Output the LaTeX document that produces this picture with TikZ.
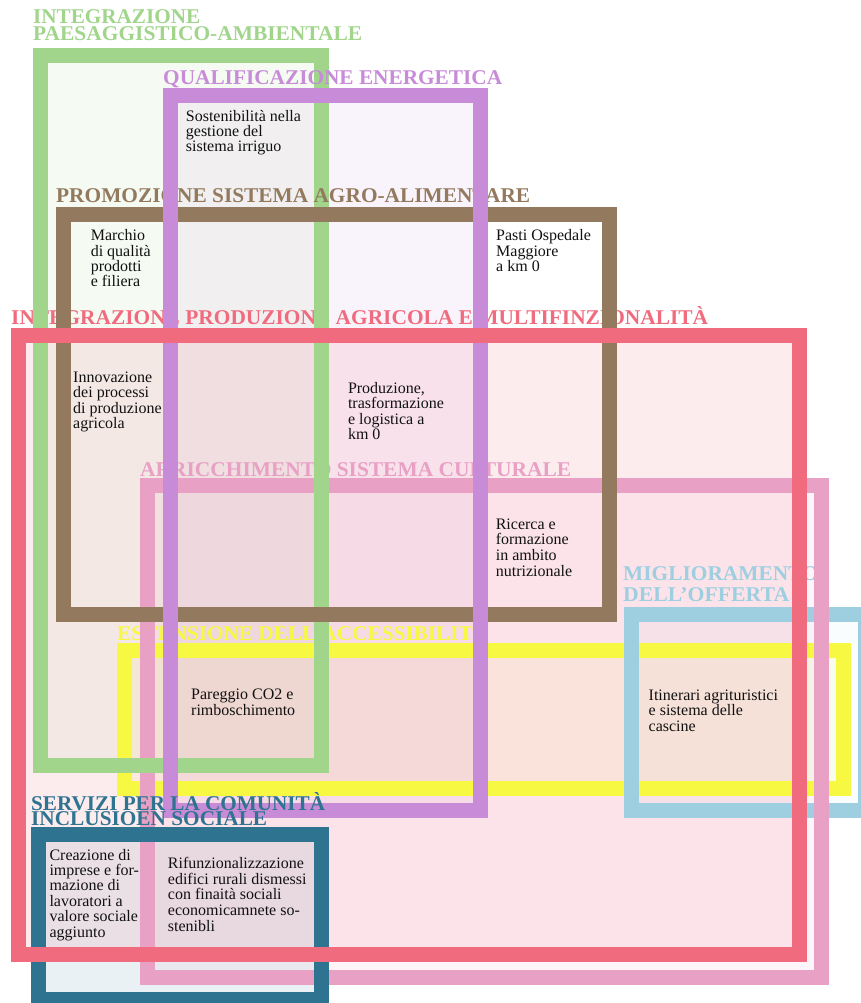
\documentclass[tikz,border=0pt]{standalone}
\usepackage{fontspec}
\setmainfont{Liberation Serif}
\usepackage{graphicx}

\definecolor{cGreen}{HTML}{A1D58B}
\definecolor{cPurple}{HTML}{C78BD8}
\definecolor{cBrown}{HTML}{937A5E}
\definecolor{cRed}{HTML}{F06B7E}
\definecolor{cPink}{HTML}{E8A0C4}
\definecolor{cYellow}{HTML}{F7F842}
\definecolor{cBlue}{HTML}{9DCFE0}
\definecolor{cTeal}{HTML}{2E7390}
\definecolor{cInk}{HTML}{111111}

% set a title line stretched horizontally to a given width (in pt)
\newsavebox\fitbox
\newlength\fitlen
\newcommand{\fitw}[2]{%
  \sbox\fitbox{#2}%
  \setlength\fitlen{\wd\fitbox}%
  \pgfmathsetmacro\fitratio{#1/\fitlen}%
  \scalebox{\fitratio}[1]{\usebox\fitbox}}

% left-aligned block of lines whose baseline is the first line
\newcommand{\stack}[2][15.5pt]{%
  \vtop{\baselineskip=#1\lineskiplimit=-50pt\lineskip=0pt
    \halign{##\hfil\cr#2\crcr}}}

\tikzset{
  ttl/.style={inner sep=0pt, anchor=base west,
    font=\fontsize{21}{21}\selectfont\bfseries},
  body/.style={inner sep=0pt, anchor=base west, text=cInk,
    font=\fontsize{16}{15.5}\selectfont},
  rim/.style={draw=#1, line width=15pt},
  tint/.style 2 args={fill=#1, fill opacity=#2},
}

\begin{document}
\begin{tikzpicture}[x=1pt, y=-1pt]
\useasboundingbox (0,0) rectangle (861,1003);
\clip (0,0) rectangle (861,1003);

% translucent areas of the fields (the agri-food field has none)
\fill[tint={cYellow}{0.10}] (117,643) rectangle (851,796);
\fill[tint={cBlue}{0.05}]   (624,607) rectangle (873,818);
\fill[tint={cPink}{0.10}]   (140,478) rectangle (829,985);
\fill[tint={cTeal}{0.10}]   (31,827)  rectangle (329,1007);
\fill[tint={cGreen}{0.10}]  (33,48)   rectangle (329,773);
\fill[tint={cPurple}{0.10}] (163,88)  rectangle (488,818);
\fill[tint={cRed}{0.13}]    (11,328)  rectangle (807,962);

% agricultural production heading lies beneath the other rims
\node[ttl, text=cRed] (tRed) at (11,324)
  {\fitw{697}{INTEGRAZIONE PRODUZIONE AGRICOLA E MULTIFINZIONALITÀ}};

% accessibility
\draw[rim=cYellow] (124.5,650.5) rectangle (843.5,788.5);
\node[ttl, text=cYellow] (tYellow) at (117,640.5)
  {\fitw{371}{ESTENSIONE DELL’ACCESSIBILITÀ}};

% offer improvement
\draw[rim=cBlue] (631.5,614.5) rectangle (865.5,810.5);
\node[ttl, text=cBlue] (tBlueA) at (623,580) {\fitw{195.5}{MIGLIORAMENTO}};
\node[ttl, text=cBlue] (tBlueB) at (623,601.5) {\fitw{166}{DELL’OFFERTA}};

% cultural system
\draw[rim=cPink] (147.5,485.5) rectangle (821.5,977.5);
\node[ttl, text=cPink] (tPink) at (140,476)
  {\fitw{431}{ARRICCHIMENTO SISTEMA CULTURALE}};

% community services
\draw[rim=cTeal] (38.5,834.5) rectangle (321.5,999.5);

% landscape and environment
\draw[rim=cGreen] (40.5,55.5) rectangle (321.5,765.5);
\node[ttl, text=cGreen] (tGreenA) at (33,24) {\fitw{167}{INTEGRAZIONE}};
\node[ttl, text=cGreen] (tGreenB) at (33,41) {\fitw{329}{PAESAGGISTICO-AMBIENTALE}};

% agri-food system
\draw[rim=cBrown] (63.5,214.5) rectangle (609.5,614.5);
\node[ttl, text=cBrown] (tBrown) at (56,203)
  {\fitw{474}{PROMOZIONE SISTEMA AGRO-ALIMENTARE}};

% energy
\draw[rim=cPurple] (170.5,95.5) rectangle (480.5,810.5);
\node[ttl, text=cPurple] (tPurple) at (163,85)
  {\fitw{339}{QUALIFICAZIONE ENERGETICA}};

% agricultural production
\draw[rim=cRed] (18.5,335.5) rectangle (799.5,954.5);

\node[ttl, text=cTeal] (tTealA) at (31,810) {\fitw{294}{SERVIZI PER LA COMUNITÀ}};
\node[ttl, text=cTeal] (tTealB) at (31,825) {\fitw{236}{INCLUSIOEN SOCIALE}};

% actions
\node[body] (aIrr) at (185.7,121.7)
  {\stack[15pt]{Sostenibilità nella\cr gestione del\cr sistema irriguo}};
\node[body] (aMarchio) at (90.6,240.7)
  {\stack[15.3pt]{Marchio\cr di qualità\cr prodotti\cr e filiera}};
\node[body] (aPasti) at (496,240.7)
  {\stack[15.3pt]{Pasti Ospedale\cr Maggiore\cr a km 0}};
\node[body] (aInnov) at (73,382.7)
  {\stack[15.2pt]{Innovazione\cr dei processi\cr di produzione\cr agricola}};
\node[body] (aProd) at (347.8,393)
  {\stack[15.6pt]{Produzione,\cr trasformazione\cr e logistica a\cr km 0}};
\node[body] (aRicerca) at (495.6,529)
  {\stack[15.9pt]{Ricerca e\cr formazione\cr in ambito\cr nutrizionale}};
\node[body] (aCO2) at (191,699)
  {\stack[16pt]{Pareggio CO2 e\cr rimboschimento}};
\node[body] (aItin) at (648.5,700)
  {\stack[15.5pt]{Itinerari agrituristici\cr e sistema delle\cr cascine}};
\node[body] (aImprese) at (49.3,860)
  {\stack[15.4pt]{Creazione di\cr imprese e for-\cr mazione di\cr lavoratori a\cr valore sociale\cr aggiunto}};
\node[body] (aEdifici) at (167.7,868.3)
  {\stack[15.8pt]{Rifunzionalizzazione\cr edifici rurali dismessi\cr con finaità sociali\cr economicamnete so-\cr stenibli}};
\end{tikzpicture}
\end{document}
